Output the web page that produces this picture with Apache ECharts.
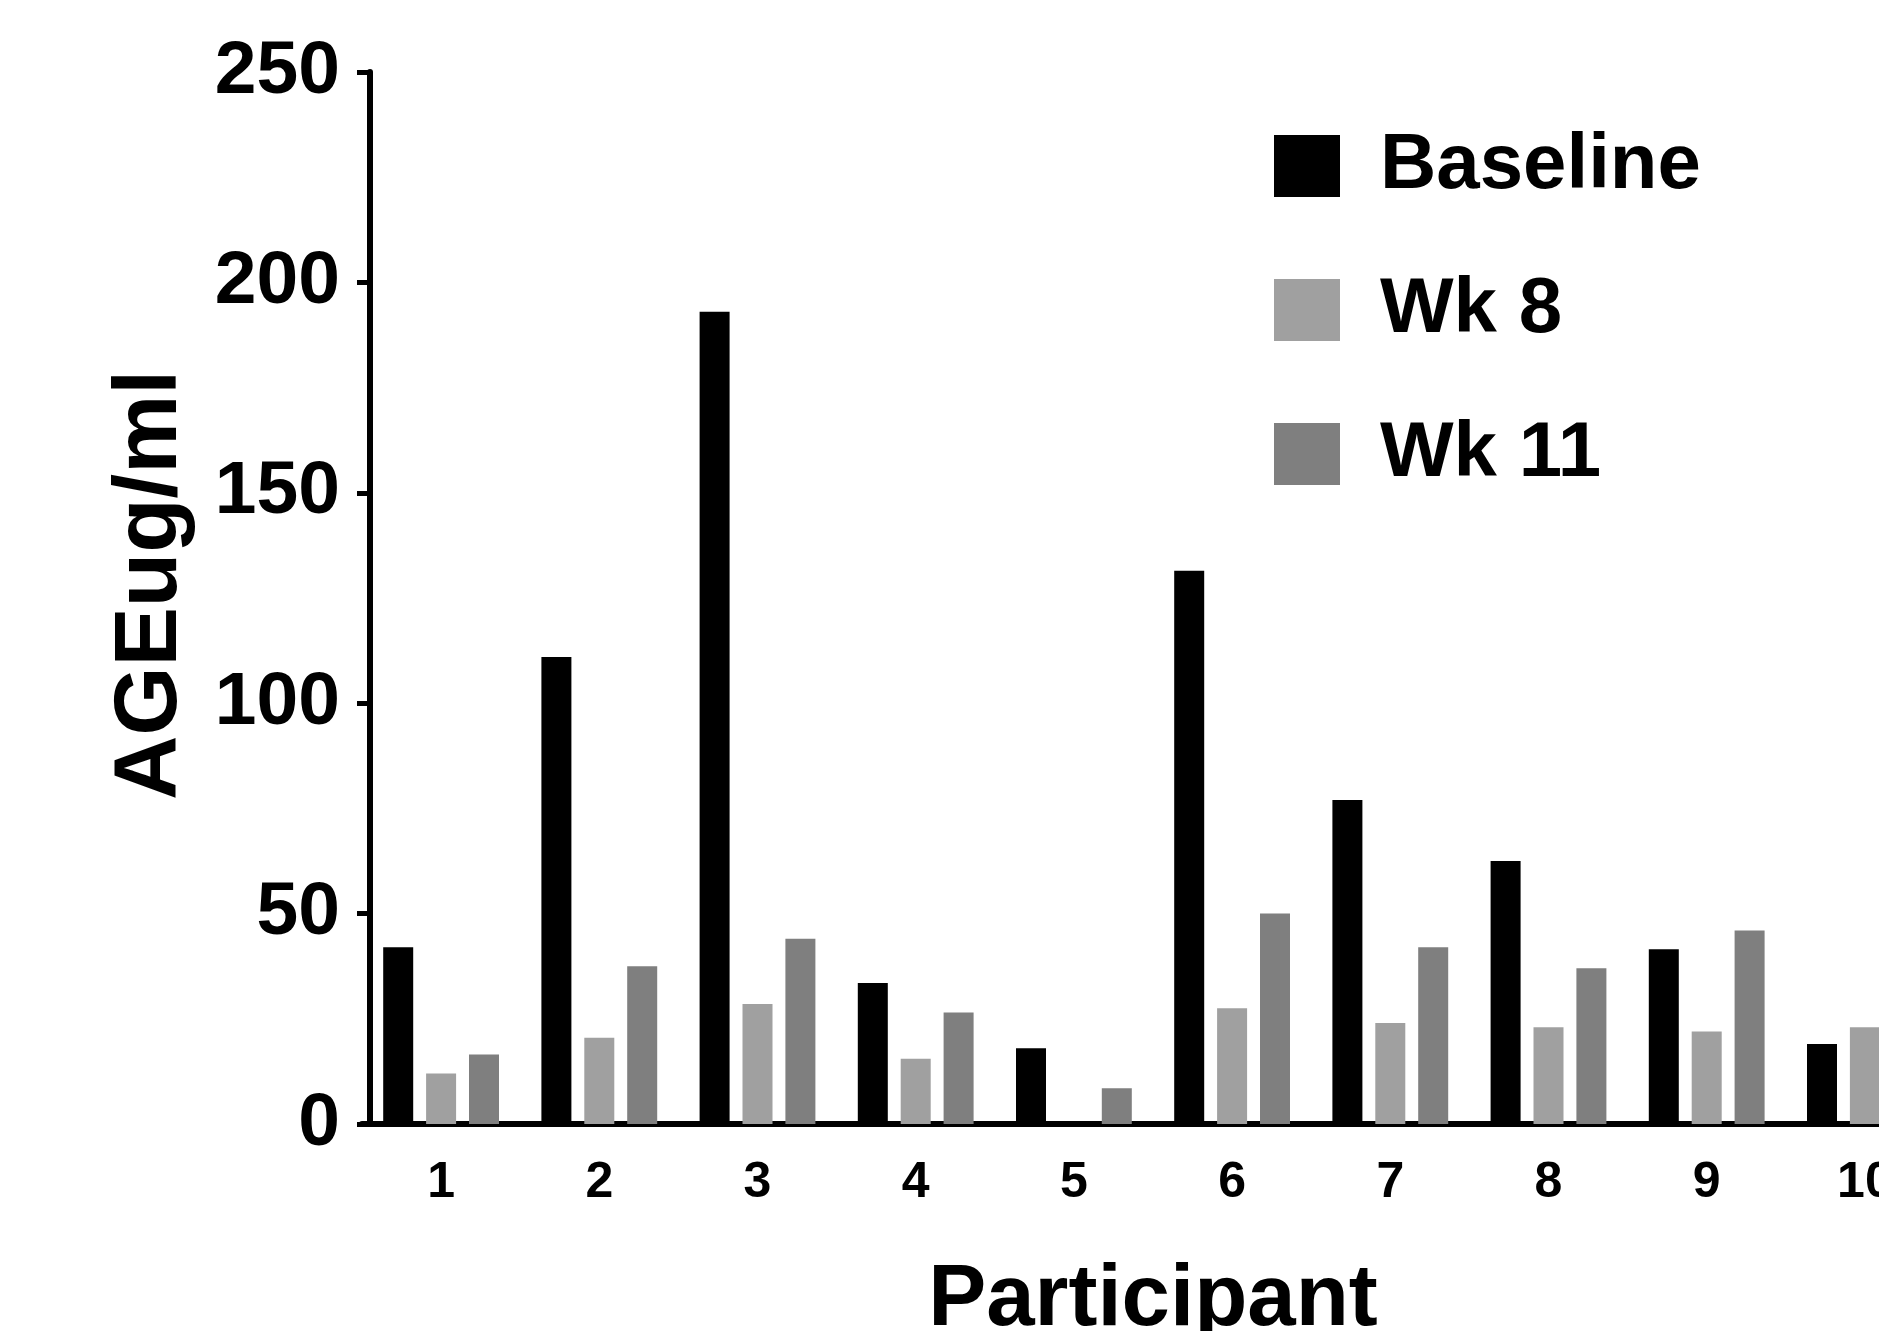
<!DOCTYPE html>
<html>
<head>
<meta charset="utf-8">
<script src="https://cdn.jsdelivr.net/npm/echarts@6/dist/echarts.min.js"></script>
<style>
  html, body { margin: 0; padding: 0; background: #fff; }
  #chart { width: 1879px; height: 1331px; }
</style>
</head>
<body>
<div id="chart"></div>
<script>
var participants = ["1", "2", "3", "4", "5", "6", "7", "8", "9", "10"];
var seriesNames = ["Baseline", "Wk 8", "Wk 11"];
var baseline = [42, 111, 193, 33.5, 18, 131.5, 77, 62.5, 41.5, 19];
var wk8 = [12, 20.5, 28.5, 15.5, 0, 27.5, 24, 23, 22, 23];
var wk11 = [16.5, 37.5, 44, 26.5, 8.5, 50, 42, 37, 46, null];
var yTicks = [0, 50, 100, 150, 200, 250];

var font = "Liberation Sans";
var chart = echarts.init(document.getElementById("chart"));

function bar(name, data, color) {
  return {
    name: name,
    type: "bar",
    data: data,
    barWidth: 30,
    barGap: "43%",
    itemStyle: { color: color },
    animation: false
  };
}

chart.setOption({
  backgroundColor: "#fff",
  textStyle: { fontFamily: font },
  // the plot runs past the right edge, participant 10 is cut off
  grid: { left: 362, top: 72, width: 1582, height: 1052, outerBoundsMode: "none", containLabel: false },
  legend: {
    orient: "vertical",
    left: 1269,
    top: 122,
    icon: "rect",
    itemWidth: 66,
    itemHeight: 62,
    itemGap: 66,
    data: seriesNames,
    textStyle: {
      fontFamily: font,
      fontWeight: "bold",
      fontSize: 78,
      color: "#000",
      lineHeight: 62,
      padding: [0, 0, 0, 35]
    }
  },
  xAxis: {
    type: "category",
    data: participants,
    name: "Participant",
    nameLocation: "middle",
    nameGap: 134,
    nameTextStyle: { fontFamily: font, fontWeight: "bold", fontSize: 87, color: "#000" },
    axisLine: { lineStyle: { color: "#000", width: 6 } },
    axisTick: { alignWithLabel: true, length: 15, lineStyle: { color: "#000", width: 5 } },
    axisLabel: { fontFamily: font, fontWeight: "bold", fontSize: 50, color: "#000", margin: 34 }
  },
  yAxis: {
    type: "value",
    min: 0,
    max: 250,
    interval: 50,
    offset: -8,
    name: "AGEug/ml",
    nameLocation: "middle",
    nameRotate: 90,
    nameGap: 174,
    nameTextStyle: {
      fontFamily: font, fontWeight: "bold", fontSize: 89, color: "#000",
      padding: [0, 0, 0, 26]
    },
    splitLine: { show: false },
    axisLine: { show: true, lineStyle: { color: "#000", width: 6 } },
    axisTick: { show: true, length: 13, lineStyle: { color: "#000", width: 5 } },
    axisLabel: {
      fontFamily: font, fontWeight: "bold", fontSize: 75, color: "#000", margin: 30,
      formatter: function (v) { return yTicks.indexOf(v) >= 0 ? String(v) : ""; }
    }
  },
  series: [
    bar(seriesNames[0], baseline, "#000000"),
    bar(seriesNames[1], wk8, "#a0a0a0"),
    bar(seriesNames[2], wk11, "#7f7f7f")
  ]
});
</script>
</body>
</html>
